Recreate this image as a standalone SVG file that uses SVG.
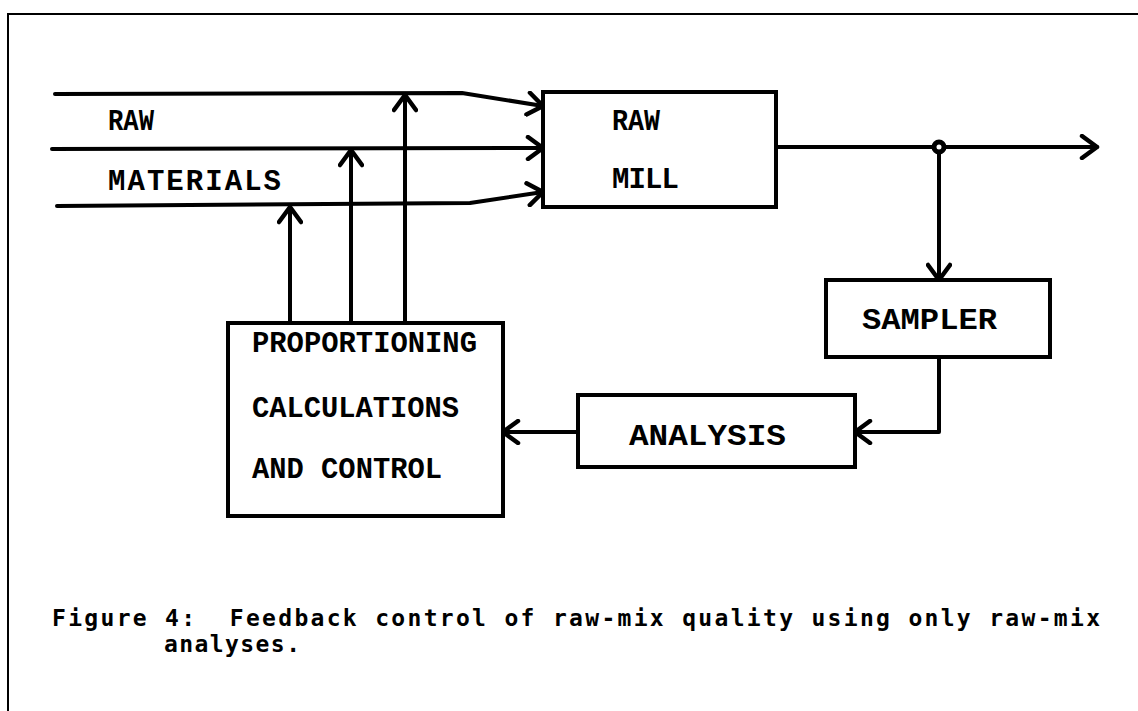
<svg xmlns="http://www.w3.org/2000/svg" width="1138" height="711" viewBox="0 0 1138 711">
<defs>
<marker id="ah" viewBox="0 0 22 26" refX="19" refY="13" markerWidth="22" markerHeight="26" markerUnits="userSpaceOnUse" orient="auto">
<path d="M4,2 L19,13 L4,24" fill="none" stroke="#000" stroke-width="4.5" stroke-linecap="round" stroke-linejoin="round"/>
</marker>
<style>
.box{fill:#fff;stroke:#000;stroke-width:4}
.ln{fill:none;stroke:#000;stroke-width:4;stroke-linecap:round;stroke-linejoin:round}
.lb{font-family:"Liberation Mono","Courier New",monospace;font-weight:bold;font-size:29px;fill:#000}
.cap{font-family:"DejaVu Sans Mono","Liberation Mono",monospace;font-weight:bold;font-size:23px;fill:#000}
.frame{fill:none;stroke:#000;stroke-width:2}
</style>
</defs>
<rect width="1138" height="711" fill="#fff"/>
<path class="frame" d="M8,711 L8,14 L1138,14"/>
<g id="labels">
<text class="lb" x="108" y="130" textLength="46" lengthAdjust="spacingAndGlyphs">RAW</text>
<text class="lb" x="108" y="190" textLength="173" lengthAdjust="spacing">MATERIALS</text>
</g>
<g id="connectors">
<path class="ln" d="M55,94 L462,93 L543,106" marker-end="url(#ah)"/>
<path class="ln" d="M52,149 L543,148" marker-end="url(#ah)"/>
<path class="ln" d="M57,206 L470,203 L543,192" marker-end="url(#ah)"/>
<path class="ln" d="M290,323 L290,207" marker-end="url(#ah)"/>
<path class="ln" d="M351,323 L351,150" marker-end="url(#ah)"/>
<path class="ln" d="M405,323 L405,95" marker-end="url(#ah)"/>
<path class="ln" d="M776,147 L1097,147" marker-end="url(#ah)"/>
<path class="ln" d="M939,147 L939,280" marker-end="url(#ah)"/>
<path class="ln" d="M939,357 L939,432 L855,432" marker-end="url(#ah)"/>
<path class="ln" d="M578,432 L503,432" marker-end="url(#ah)"/>
<circle cx="939" cy="147" r="5" fill="#fff" stroke="#000" stroke-width="5"/>
</g>
<g id="rawmill">
<rect class="box" x="543" y="92" width="233" height="115"/>
<text class="lb" x="612" y="130" textLength="48" lengthAdjust="spacingAndGlyphs">RAW</text>
<text class="lb" x="612" y="188" textLength="67" lengthAdjust="spacing">MILL</text>
</g>
<g id="sampler">
<rect class="box" x="826" y="280" width="224" height="77"/>
<text class="lb" x="862" y="329" textLength="135" lengthAdjust="spacingAndGlyphs">SAMPLER</text>
</g>
<g id="analysis">
<rect class="box" x="578" y="395" width="277" height="72"/>
<text class="lb" x="629" y="445" textLength="157" lengthAdjust="spacingAndGlyphs">ANALYSIS</text>
</g>
<g id="proportioning">
<rect class="box" x="228" y="323" width="275" height="193"/>
<text class="lb" x="252" y="352" textLength="225" lengthAdjust="spacingAndGlyphs">PROPORTIONING</text>
<text class="lb" x="252" y="417" textLength="207" lengthAdjust="spacingAndGlyphs">CALCULATIONS</text>
<text class="lb" x="252" y="478" textLength="190" lengthAdjust="spacingAndGlyphs">AND CONTROL</text>
</g>
<g id="caption">
<text class="cap" x="52" y="626" textLength="1048" lengthAdjust="spacing" xml:space="preserve">Figure 4:  Feedback control of raw-mix quality using only raw-mix</text>
<text class="cap" x="164" y="652" textLength="136" lengthAdjust="spacing">analyses.</text>
</g>
</svg>
